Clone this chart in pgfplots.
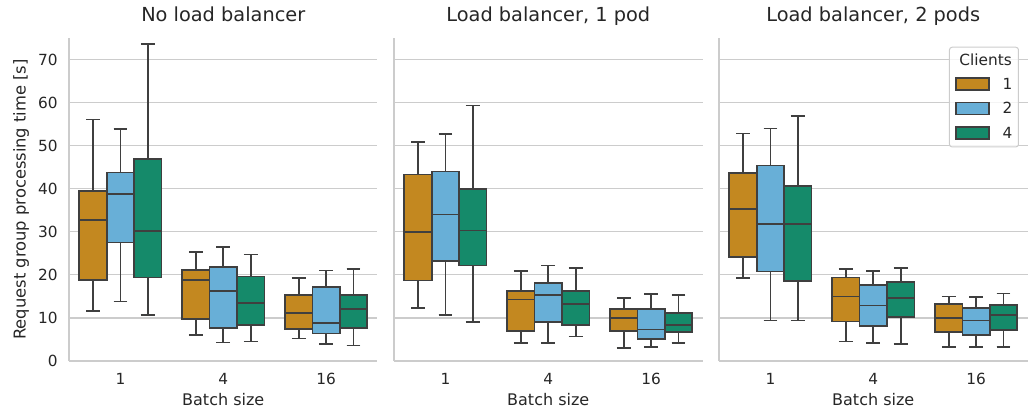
\documentclass[border=0pt]{standalone}
\usepackage{fontspec}
\setmainfont{DejaVu Sans}
\usepackage{pgfplots}
\usepackage{pgfplotstable}
\pgfplotsset{compat=1.18}
\usepgfplotslibrary{statistics}
\definecolor{cA}{HTML}{C38820}
\definecolor{cB}{HTML}{68AFD7}
\definecolor{cC}{HTML}{158A6A}
\definecolor{edge}{HTML}{3F3F3F}
\definecolor{gridc}{HTML}{CCCCCC}
\definecolor{txt}{HTML}{262626}

% rows: batch 1 (clients 1,2,4), batch 4 (1,2,4), batch 16 (1,2,4)
\pgfplotstableread{
pos     lw    lq    med   uq    uw
-0.2667 11.6  18.8  32.8  39.5  56.1
0.0     13.8  27.5  38.8  43.8  53.9
0.2667  10.7  19.4  30.2  46.9  73.6
0.7333  6.0   9.8   18.8  21.2  25.3
1.0     4.3   7.6   16.3  21.9  26.5
1.2667  4.5   8.4   13.4  19.6  24.7
1.7333  5.2   7.4   11.2  15.3  19.3
2.0     4.0   6.4   8.8   17.1  21.0
2.2667  3.6   7.7   12.0  15.3  21.4
}\datA
\pgfplotstableread{
pos     lw    lq    med   uq    uw
-0.2667 12.3  18.7  29.9  43.3  50.8
0.0     10.7  23.3  34.0  44.0  52.7
0.2667  9.1   22.2  30.3  40.0  59.3
0.7333  4.2   7.0   14.3  16.3  20.9
1.0     4.2   9.1   15.4  18.1  22.2
1.2667  5.7   8.4   13.2  16.3  21.6
1.7333  3.1   7.0   9.9   12.0  14.6
2.0     3.3   5.1   7.3   12.0  15.5
2.2667  4.2   6.7   8.4   11.1  15.3
}\datB
\pgfplotstableread{
pos     lw    lq    med   uq    uw
-0.2667 19.3  24.2  35.3  43.7  52.8
0.0     9.4   20.8  31.8  45.4  54.0
0.2667  9.4   18.5  31.8  40.6  56.9
0.7333  4.5   9.2   15.0  19.4  21.4
1.0     4.1   8.1   12.9  17.7  20.9
1.2667  4.0   10.2  14.7  18.3  21.6
1.7333  3.2   6.7   9.9   13.3  15.0
2.0     3.3   6.0   9.4   12.3  14.8
2.2667  3.3   7.2   10.7  13.0  15.7
}\datC

\pgfplotsset{
 boxplot/every box/.style={line width=1.3pt},
 boxplot/every whisker/.style={line width=1.3pt, draw=edge},
 boxplot/every median/.style={line width=1.3pt, draw=edge},
}

\newcommand{\bx}[3]{% table, row, color
 \pgfplotstablegetelem{#2}{pos}\of#1\let\vpos\pgfplotsretval
 \pgfplotstablegetelem{#2}{lw}\of#1\let\vlw\pgfplotsretval
 \pgfplotstablegetelem{#2}{lq}\of#1\let\vlq\pgfplotsretval
 \pgfplotstablegetelem{#2}{med}\of#1\let\vmed\pgfplotsretval
 \pgfplotstablegetelem{#2}{uq}\of#1\let\vuq\pgfplotsretval
 \pgfplotstablegetelem{#2}{uw}\of#1\let\vuw\pgfplotsretval
 \edef\tmp{\noexpand\addplot[forget plot, draw=edge, fill=#3, line width=1.3pt,
   boxplot/draw direction=y,
   boxplot prepared={draw position=\vpos, lower whisker=\vlw, lower quartile=\vlq,
     median=\vmed, upper quartile=\vuq, upper whisker=\vuw,
     box extend=0.2667, whisker extend=0.1333}] coordinates {};}%
 \tmp}
\newcommand{\allboxes}[1]{%
 \bx{#1}{0}{cA}\bx{#1}{1}{cB}\bx{#1}{2}{cC}%
 \bx{#1}{3}{cA}\bx{#1}{4}{cB}\bx{#1}{5}{cC}%
 \bx{#1}{6}{cA}\bx{#1}{7}{cB}\bx{#1}{8}{cC}}

\pgfplotsset{
 panel/.style={
  scale only axis, width=231.375pt, height=242.25pt,
  xmin=-0.5, xmax=2.5, ymin=0, ymax=75,
  xtick={0,1,2}, xticklabels={1,4,16},
  ytick={0,10,...,70},
  ymajorgrids, xmajorgrids=false,
  grid style={draw=gridc, line width=0.9pt},
  axis x line=bottom, axis y line=left,
  axis line style={-, draw=gridc, line width=0.9pt},
  every outer x axis line/.append style={-},
  every outer y axis line/.append style={-},
  major tick length=0pt,
  tick style={draw=none},
  ticklabel style={font=\fontsize{11.5}{13}\selectfont, text=txt},
  /pgf/number format/assume math mode=true,
  xticklabel style={anchor=base, yshift=-17.6pt, inner sep=0pt},
  yticklabel style={anchor=east, xshift=-8.25pt, inner sep=0pt},
  xlabel={Batch size},
  x label style={at={(axis description cs:0.5,-0.1393)}, anchor=base,
    font=\fontsize{12}{14}\selectfont, text=txt},
  title style={at={(axis description cs:0.5,1.0269)}, anchor=base,
    font=\fontsize{14.5}{17}\selectfont, text=txt},
 }
}

\begin{document}
\begin{tikzpicture}
\useasboundingbox (0pt,0pt) rectangle (774.75pt,309pt);

\begin{axis}[panel, at={(51.75pt,38.25pt)}, anchor=south west,
  title={No load balancer},
  ylabel={Request group processing time [s]},
  y label style={at={(axis description cs:-0.1556,0.5)}, anchor=center,
    font=\fontsize{12.25}{14}\selectfont, text=txt}]
\allboxes{\datA}
\end{axis}

\begin{axis}[panel, at={(295.5pt,38.25pt)}, anchor=south west,
  title={Load balancer, 1 pod}, yticklabels={}]
\allboxes{\datB}
\end{axis}

\begin{axis}[panel, at={(539.25pt,38.25pt)}, anchor=south west,
  title={Load balancer, 2 pods}, yticklabels={},
  legend cell align=right,
  legend style={at={(axis description cs:0.9724,0.973)}, anchor=north east,
    draw=gridc, fill=white, fill opacity=0.8, text opacity=1,
    rounded corners=2pt, line width=0.75pt,
    inner xsep=4.5pt, inner ysep=5.5pt, column sep=9.5pt, row sep=8pt,
    font=\fontsize{11.5}{13}\selectfont, text=txt,
    nodes={inner sep=0pt, text height=8pt, text depth=0pt}}]
\allboxes{\datC}
\addlegendimage{legend image code/.code={\path[draw=none, fill=none] (0pt,-5.2pt) rectangle (0pt,4pt);}}
\addlegendentry{\makebox[0pt][r]{Clients}}
\addlegendimage{legend image code/.code={\draw[sharp corners, fill opacity=1, fill=cA, draw=edge, line width=1.2pt] (0pt,-4.5pt) rectangle (24.75pt,4.5pt);}}
\addlegendentry{1}
\addlegendimage{legend image code/.code={\draw[sharp corners, fill opacity=1, fill=cB, draw=edge, line width=1.2pt] (0pt,-4.5pt) rectangle (24.75pt,4.5pt);}}
\addlegendentry{2}
\addlegendimage{legend image code/.code={\draw[sharp corners, fill opacity=1, fill=cC, draw=edge, line width=1.2pt] (0pt,-4.5pt) rectangle (24.75pt,4.5pt);}}
\addlegendentry{4}
\end{axis}
\end{tikzpicture}
\end{document}
